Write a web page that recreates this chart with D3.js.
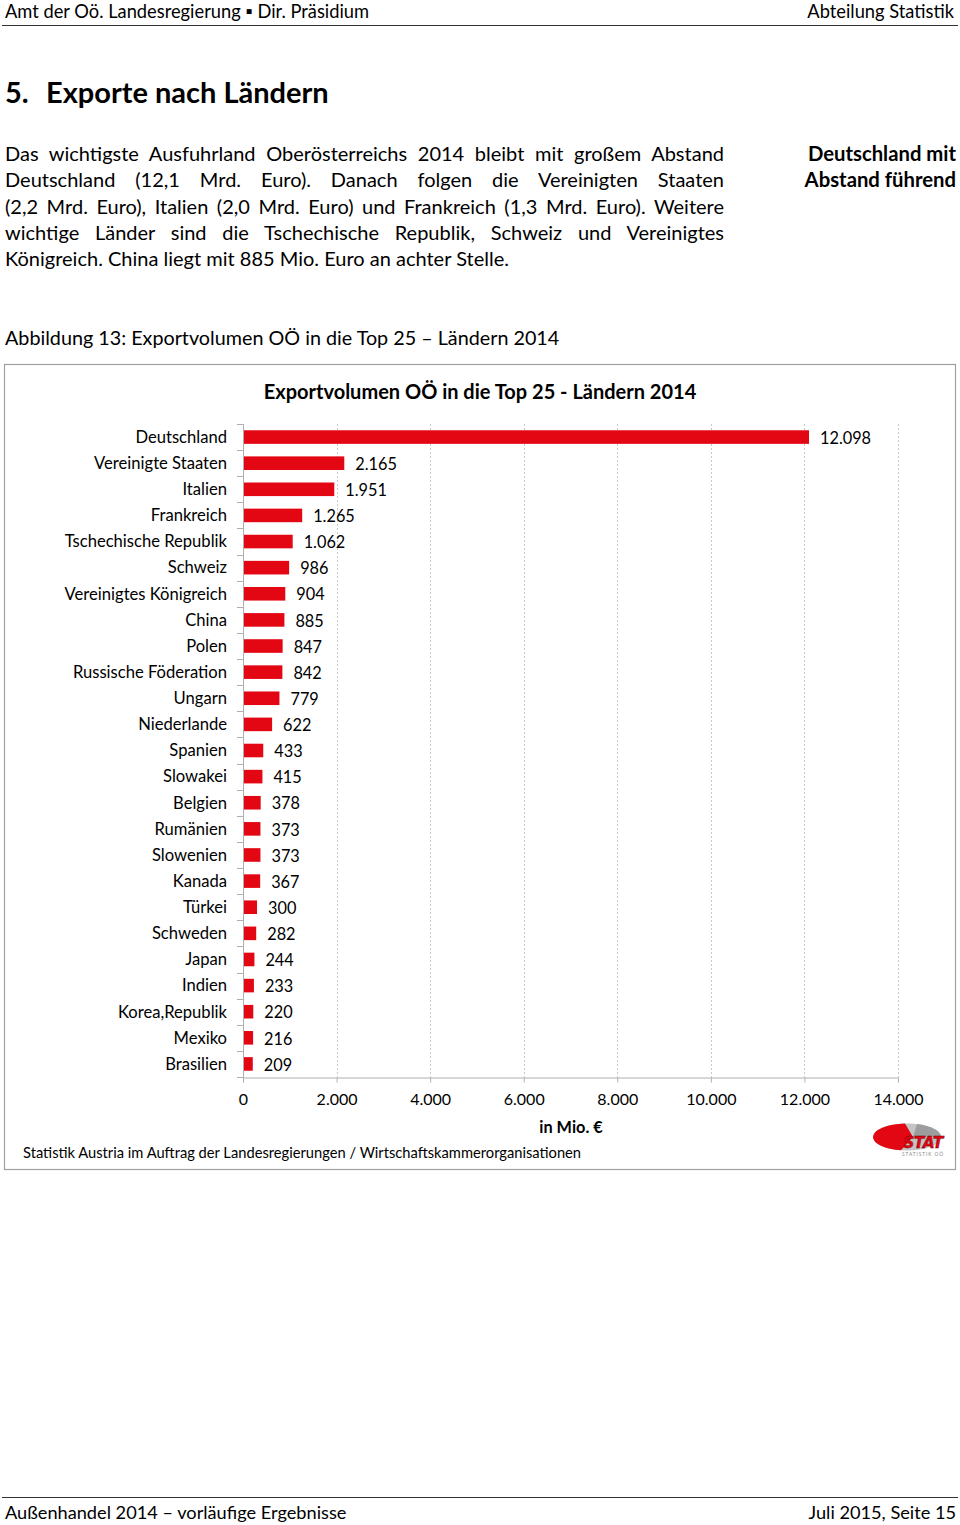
<!DOCTYPE html>
<html><head><meta charset="utf-8">
<script src="https://cdn.jsdelivr.net/npm/d3@7"></script>
<style>
html,body{margin:0;padding:0;background:#fff;}
body{width:960px;height:1525px;position:relative;overflow:hidden;font-family:Lato,"Open Sans",sans-serif;color:#000;}
.abs{position:absolute;white-space:nowrap;}
.para{position:absolute;left:5px;width:719px;font-size:20px;line-height:26.3px;}
.para div{text-align:justify;text-align-last:justify;white-space:nowrap;}
.para div.last{text-align-last:left;}
</style></head>
<body>
<div class="abs" style="left:5px;top:0px;font-size:18.3px;">Amt der Oö. Landesregierung ▪ Dir. Präsidium</div>
<div class="abs" style="right:6px;top:0px;font-size:18.3px;">Abteilung Statistik</div>
<div class="abs" style="left:5px;top:74px;font-size:29px;font-weight:bold;">5.</div>
<div class="abs" style="left:46px;top:74px;font-size:29px;font-weight:bold;">Exporte nach Ländern</div>
<div class="para" style="top:140px;">
<div>Das wichtigste Ausfuhrland Oberösterreichs 2014 bleibt mit großem Abstand</div>
<div>Deutschland (12,1 Mrd. Euro). Danach folgen die Vereinigten Staaten</div>
<div>(2,2 Mrd. Euro), Italien (2,0 Mrd. Euro) und Frankreich (1,3 Mrd. Euro). Weitere</div>
<div>wichtige Länder sind die Tschechische Republik, Schweiz und Vereinigtes</div>
<div class="last">Königreich. China liegt mit 885 Mio. Euro an achter Stelle.</div>
</div>
<div class="abs" style="right:4px;top:140px;font-size:20.3px;line-height:26.3px;font-weight:bold;text-align:right;">Deutschland mit<br>Abstand führend</div>
<div class="abs" style="left:5px;top:326px;font-size:19.75px;">Abbildung 13: Exportvolumen OÖ in die Top 25 – Ländern 2014</div>
<div class="abs" style="left:5px;top:1501px;font-size:18.2px;">Außenhandel 2014 – vorläufige Ergebnisse</div>
<div class="abs" style="right:4px;top:1501px;font-size:18.2px;">Juli 2015, Seite 15</div>
<svg id="chart" width="960" height="1525" style="position:absolute;left:0;top:0;"></svg>
<script>
const categories = ["Deutschland","Vereinigte Staaten","Italien","Frankreich","Tschechische Republik","Schweiz","Vereinigtes Königreich","China","Polen","Russische Föderation","Ungarn","Niederlande","Spanien","Slowakei","Belgien","Rumänien","Slowenien","Kanada","Türkei","Schweden","Japan","Indien","Korea,Republik","Mexiko","Brasilien"];
const values = [12098,2165,1951,1265,1062,986,904,885,847,842,779,622,433,415,378,373,373,367,300,282,244,233,220,216,209];
const xTicks = [0,2000,4000,6000,8000,10000,12000,14000];
const chartTitle = "Exportvolumen OÖ in die Top 25 - Ländern 2014";
const xAxisTitle = "in Mio. €";
const sourceText = "Statistik Austria im Auftrag der Landesregierungen / Wirtschaftskammerorganisationen";

const loc = d3.formatLocale({decimal:",",thousands:".",grouping:[3],currency:["","€"]});
const fmt = loc.format(",d");

const svg = d3.select("#chart");
const font = "Lato, 'Open Sans', sans-serif";

// page rules
svg.append("line").attr("x1",2).attr("x2",958).attr("y1",25.5).attr("y2",25.5).attr("stroke","#333").attr("stroke-width",1.2);
svg.append("line").attr("x1",2).attr("x2",958).attr("y1",1497.5).attr("y2",1497.5).attr("stroke","#333").attr("stroke-width",1.2);

// chart frame
svg.append("rect").attr("x",4.5).attr("y",364.5).attr("width",951).attr("height",805).attr("fill","#fff").attr("stroke","#a0a0a0").attr("stroke-width",1.2);

svg.append("text").attr("x",480).attr("y",399).attr("text-anchor","middle").attr("font-family",font).attr("font-size",20).attr("font-weight","bold").text(chartTitle);

const x = d3.scaleLinear().domain([0,14000]).range([243,898]);
const y = d3.scaleBand().domain(categories).range([424,1077]).paddingInner(0.48).paddingOuter(0.24);

// gridlines
svg.append("g").selectAll("line").data(xTicks.filter(d=>d>0)).join("line")
  .attr("x1",d=>Math.round(x(d))+0.5).attr("x2",d=>Math.round(x(d))+0.5)
  .attr("y1",424).attr("y2",1077).attr("stroke","#c8c8c8").attr("stroke-dasharray","2,2").attr("stroke-width",1);

// x axis
const xAxis = d3.axisBottom(x).tickValues(xTicks).tickFormat(d=>fmt(d)).tickSize(5).tickPadding(10);
const gx = svg.append("g").attr("transform","translate(0,1077.5)").call(xAxis);
gx.select(".domain").attr("stroke","#b0b0b0");
gx.selectAll(".tick line").attr("stroke","#b0b0b0");
gx.selectAll(".tick text").attr("font-family",font).attr("font-size",16).attr("fill","#000").attr("dy","0.75em");

// y axis (ticks at band boundaries)
const step = y.step();
const boundaries = d3.range(categories.length + 1).map(i => 424 + i * (653 / categories.length));
svg.append("g").selectAll("line").data(boundaries).join("line")
  .attr("x1",237).attr("x2",243).attr("y1",d=>Math.round(d)+0.5).attr("y2",d=>Math.round(d)+0.5).attr("stroke","#b0b0b0");
svg.append("line").attr("x1",243.5).attr("x2",243.5).attr("y1",424).attr("y2",1078).attr("stroke","#b0b0b0");

// category labels
svg.append("g").selectAll("text").data(categories).join("text")
  .attr("x",227).attr("y",d=>y(d)+y.bandwidth()/2).attr("dy","0.35em").attr("text-anchor","end")
  .attr("font-family",font).attr("font-size",16.6).text(d=>d);

// bars
const data = categories.map((c,i)=>({c,v:values[i]}));
svg.append("g").selectAll("rect").data(data).join("rect")
  .attr("x",x(0)+1).attr("y",d=>y(d.c)).attr("width",d=>x(d.v)-x(0)-1).attr("height",y.bandwidth())
  .attr("fill","#e30613");

// value labels
svg.append("g").selectAll("text").data(data).join("text")
  .attr("x",d=>x(d.v)+11).attr("y",d=>y(d.c)+y.bandwidth()/2+1).attr("dy","0.35em")
  .attr("font-family",font).attr("font-size",16.3).text(d=>fmt(d.v));

svg.append("text").attr("x",571).attr("y",1133).attr("text-anchor","middle").attr("font-family",font).attr("font-size",16.3).attr("font-weight","bold").text(xAxisTitle);
svg.append("text").attr("x",23).attr("y",1158).attr("font-family",font).attr("font-size",14.7).text(sourceText);

// logo
const lg = svg.append("g").attr("transform","translate(907,1137)");
lg.append("ellipse").attr("rx",34).attr("ry",13.5).attr("fill","#c4c4c4");
lg.append("path").attr("d","M6,0 L34,0 A34,13.5 0 0,0 10,-13 Z").attr("fill","#9d9d9d");
lg.append("path").attr("d","M6,0 L-2,-13.5 A34,13.5 0 0,0 -34,0 A34,13.5 0 0,0 -6,13.3 Z").attr("fill","#e30613");
lg.append("text").attr("x",16).attr("y",11).attr("text-anchor","middle").attr("font-family","'DejaVu Sans', sans-serif").attr("font-weight","bold").attr("font-style","italic").attr("font-size",15.5).attr("fill","#e30613").attr("stroke","#6a0000").attr("stroke-width",0.4).attr("letter-spacing",-0.5).text("STAT");
lg.append("text").attr("x",16).attr("y",18.5).attr("text-anchor","middle").attr("font-family",font).attr("font-size",4.8).attr("fill","#888").attr("letter-spacing",0.9).text("STATISTIK OÖ");
</script>
</body></html>
